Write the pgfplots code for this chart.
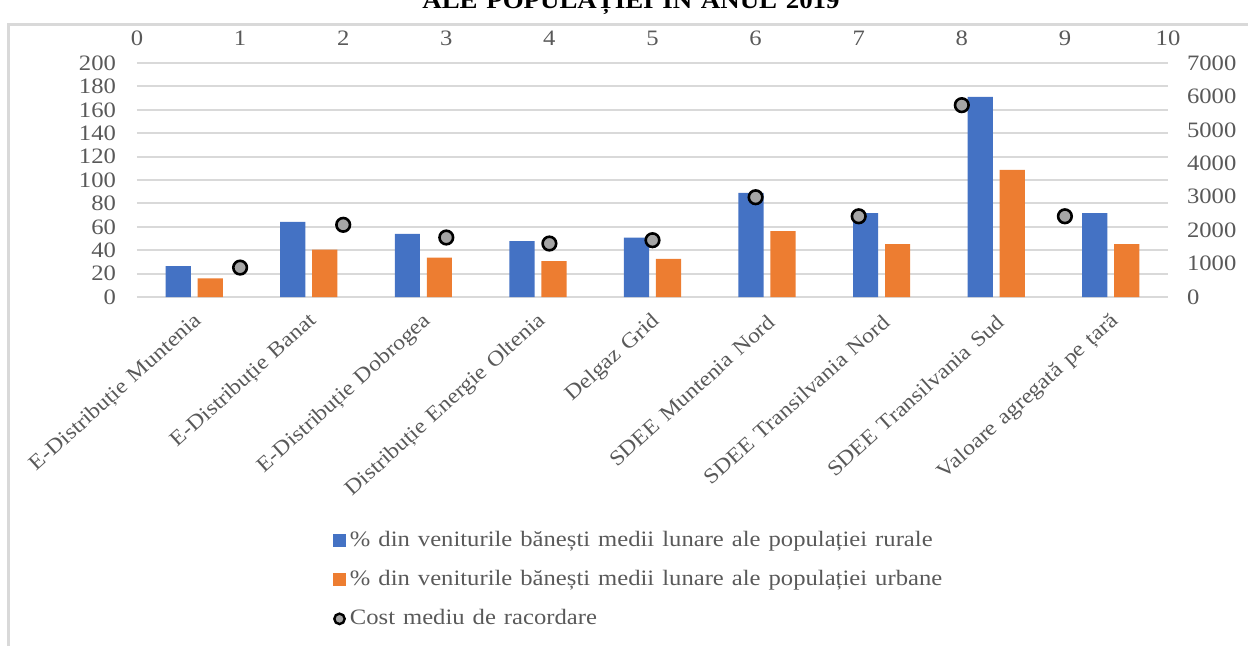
\documentclass[border=0pt]{standalone}
\usepackage{fontspec}
\setmainfont[FakeStretch=1.12, WordSpace=1.3]{Liberation Serif}
\usepackage{pgfplots}
\pgfplotsset{compat=1.18}

\definecolor{rural}{HTML}{4472C4}
\definecolor{urban}{HTML}{ED7D31}
\definecolor{costfill}{HTML}{A5A5A5}
\definecolor{txt}{HTML}{595959}
\definecolor{gridc}{HTML}{D9D9D9}

% shared frame of both axes (plot box in pt, 1px = 0.5pt)
\pgfplotsset{
  twin/.style={
    at={(68.5pt,174pt)}, anchor=south west,
    width=515.5pt, height=117pt, scale only axis,
    axis line style={draw=none},
    major tick length=0pt,
    tick label style={font=\fontsize{11}{13}\selectfont, text=txt},
    /pgf/number format/assume math mode=true,
    /pgf/number format/1000 sep={},
  }
}

\begin{document}
\begin{tikzpicture}[x=1pt,y=1pt]
\useasboundingbox (0,0) rectangle (624,322.5);
\draw[gridc, line width=1.5pt] (4,-20) rectangle (700,310.5);
\node[font=\fontsize{12}{14}\selectfont\bfseries, anchor=base] at (315.5,318.5) {ALE POPULAȚIEI ÎN ANUL 2019};

% bars: bottom categories, left axis
\begin{axis}[twin,
  xmin=-0.5, xmax=8.5, ymin=0, ymax=200,
  axis x line*=bottom, axis y line*=left,
  xtick={0,...,8},
  xticklabels={E-Distribuție Muntenia, E-Distribuție Banat, E-Distribuție Dobrogea,
    Distribuție Energie Oltenia, Delgaz Grid, SDEE Muntenia Nord,
    SDEE Transilvania Nord, SDEE Transilvania Sud, Valoare agregată pe țară},
  xticklabel style={xshift=5pt, yshift=-8.5pt, rotate=42, anchor=east,
    font=\fontsize{10.6}{13}\selectfont},
  ytick={0,20,...,200},
  yticklabel shift=7pt,
  ymajorgrids, grid style={gridc, line width=1pt},
]
\addplot[ybar, fill=rural, draw=none, bar width=12.6pt, bar shift=-8pt] coordinates {
  (0,26.3)(1,64.3)(2,54.0)(3,47.7)(4,50.7)(5,89.0)(6,71.8)(7,171.1)(8,71.8)
};
\addplot[ybar, fill=urban, draw=none, bar width=12.6pt, bar shift=8pt] coordinates {
  (0,16.0)(1,40.6)(2,33.7)(3,30.6)(4,32.5)(5,56.4)(6,45.2)(7,108.7)(8,45.2)
};
\end{axis}

% connection cost: top 0..10 axis, right axis
\begin{axis}[twin,
  xmin=0, xmax=10, ymin=0, ymax=7000,
  axis x line*=top, axis y line*=right,
  xtick={0,...,10}, ytick={0,1000,...,7000},
  xticklabel shift=5pt, yticklabel shift=6pt,
  legend cell align=left,
  legend style={at={(0.184,-0.965)}, anchor=north west, draw=none, fill=none,
    font=\fontsize{11}{13}\selectfont, text=txt, row sep=6.5pt},
]
\addlegendimage{legend image code/.code={\fill[rural] (0pt,-3pt) rectangle (6pt,3pt);}}
\addlegendentry{\% din veniturile bănești medii lunare ale populației rurale}
\addlegendimage{legend image code/.code={\fill[urban] (0pt,-3pt) rectangle (6pt,3pt);}}
\addlegendentry{\% din veniturile bănești medii lunare ale populației urbane}
\addplot[only marks, mark=*, mark size=3.4pt,
  mark options={fill=costfill, draw=black, line width=1.3pt},
  legend image code/.code={\draw[fill=costfill, draw=black, line width=1.2pt] (3pt,0pt) circle (2.6pt);}]
  coordinates {
  (1,880)(2,2160)(3,1780)(4,1600)(5,1700)(6,2985)(7,2415)(8,5740)(9,2415)
};
\addlegendentry{Cost mediu de racordare}
\end{axis}
\end{tikzpicture}
\end{document}
